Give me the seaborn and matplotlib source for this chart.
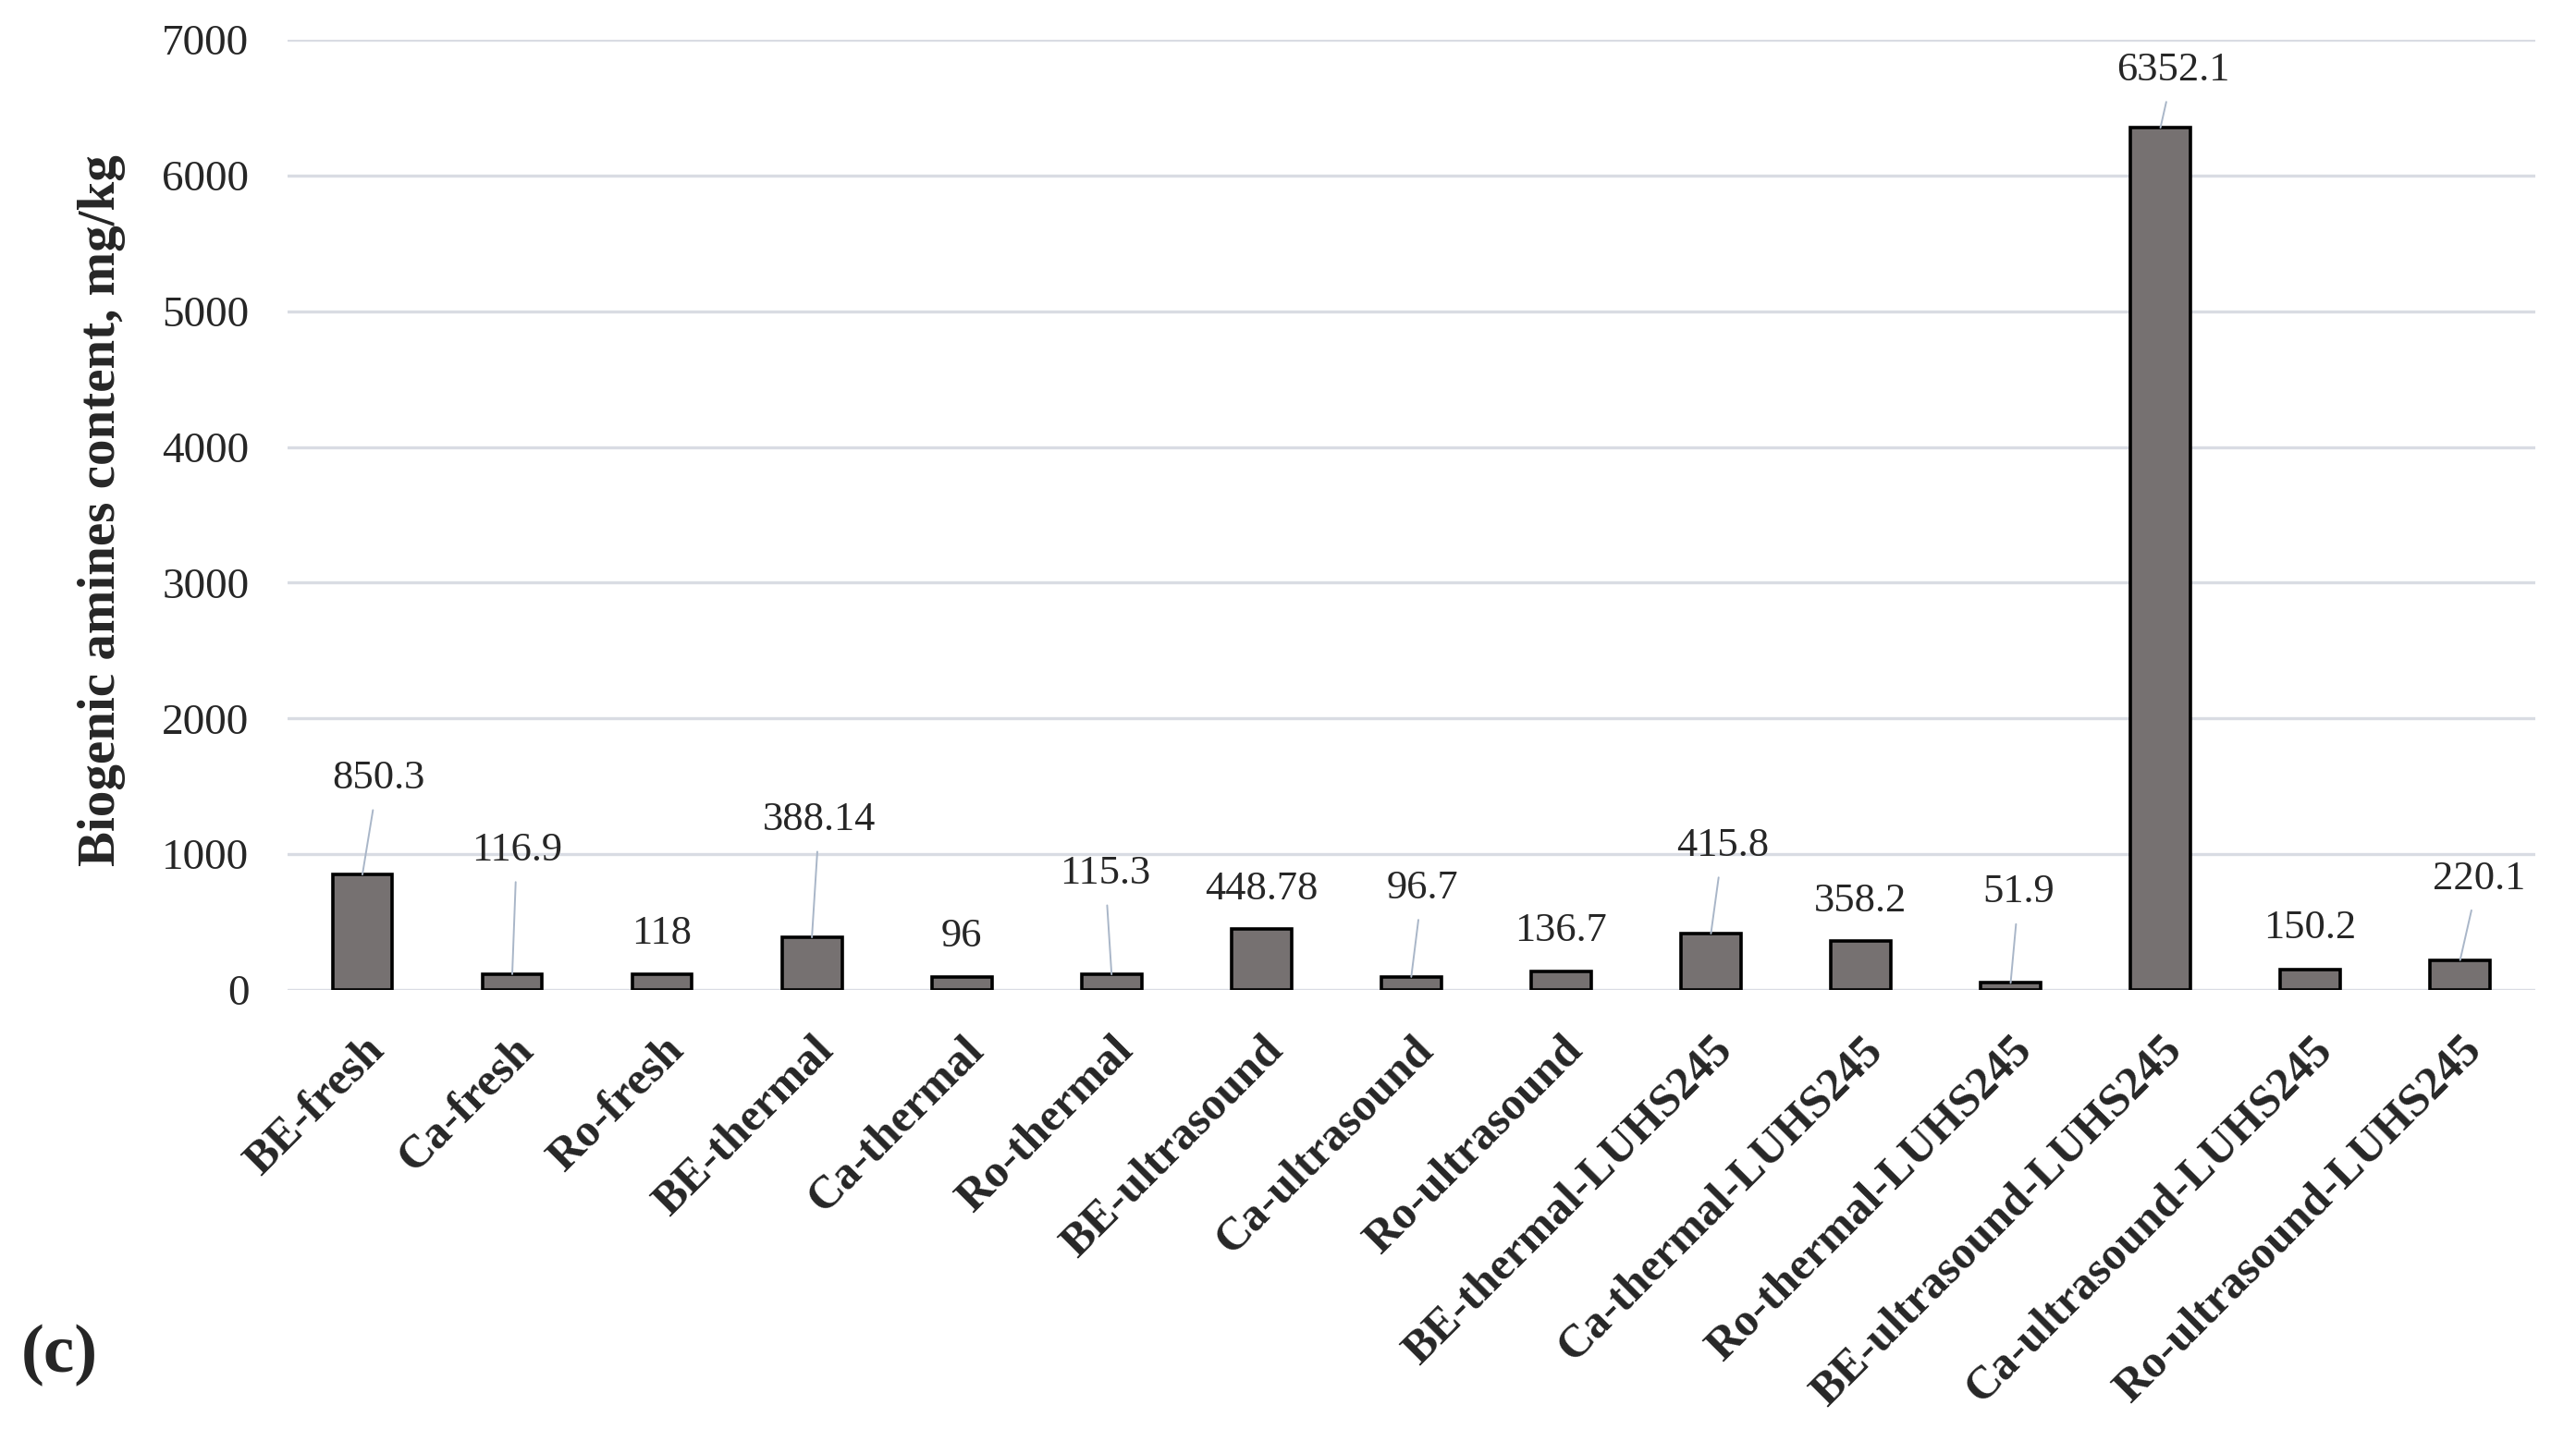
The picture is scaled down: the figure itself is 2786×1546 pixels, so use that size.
import matplotlib
matplotlib.use("Agg")
import matplotlib.pyplot as plt
import seaborn as sns

# --- data ---
categories = [
    "BE-fresh", "Ca-fresh", "Ro-fresh",
    "BE-thermal", "Ca-thermal", "Ro-thermal",
    "BE-ultrasound", "Ca-ultrasound", "Ro-ultrasound",
    "BE-thermal-LUHS245", "Ca-thermal-LUHS245", "Ro-thermal-LUHS245",
    "BE-ultrasound-LUHS245", "Ca-ultrasound-LUHS245", "Ro-ultrasound-LUHS245",
]
amines = [850.3, 116.9, 118, 388.14, 96, 115.3, 448.78, 96.7, 136.7,
          415.8, 358.2, 51.9, 6352.1, 150.2, 220.1]
value_labels = ["850.3", "116.9", "118", "388.14", "96", "115.3", "448.78", "96.7",
                "136.7", "415.8", "358.2", "51.9", "6352.1", "150.2", "220.1"]
y_ticks = [0, 1000, 2000, 3000, 4000, 5000, 6000, 7000]

# label placement (pixels from the bar top), like dragged labels in Excel
label_dx = [17, 5, 0, 8, 0, -7, 0, 12, 0, 13, 0, 9, 14, 0, 20]
label_dy = [104, 134, 44, 127, 44, 109, 43, 96, 44, 95, 43, 98, 62, 45, 88]

sns.set_theme(style="white")
plt.rcParams["font.family"] = ["Liberation Serif", "DejaVu Serif"]

fig = plt.figure(figsize=(27.86, 15.46), dpi=100)
ax = fig.add_axes([0.1116, 0.3072, 0.8725, 0.665])

sns.barplot(x=categories, y=amines, color="#767171", saturation=1,
            edgecolor="black", linewidth=2.6, width=0.4, ax=ax, zorder=3)

ax.set_ylim(0, 7000)
ax.set_xlim(-0.5, len(categories) - 0.5)
ax.set_yticks(y_ticks)
ax.set_yticklabels([str(t) for t in y_ticks], fontsize=34)
ax.yaxis.grid(True, color="#D9DCE3", linewidth=2.4, zorder=0)
ax.xaxis.grid(False)
for s in ax.spines.values():
    s.set_visible(False)
ax.tick_params(axis="both", length=0)
ax.tick_params(axis="y", pad=30)
ax.tick_params(axis="x", pad=30)

for lab in ax.get_xticklabels():
    lab.set_rotation(45)
    lab.set_ha("right")
    lab.set_va("top")
    lab.set_rotation_mode("anchor")
    lab.set_fontweight("bold")
    lab.set_fontsize(36)

ax.set_ylabel("Biogenic amines content, mg/kg", fontsize=41, fontweight="bold")
ax.yaxis.set_label_coords(-0.072, 0.505)

# value labels, long ones get a leader line back to the bar
for i, (v, txt) in enumerate(zip(amines, value_labels)):
    kw = dict(textcoords="offset pixels", ha="center", va="center",
              fontsize=32, color="#262626", zorder=4)
    if label_dy[i] > 60:
        kw["arrowprops"] = dict(arrowstyle="-", color="#A9B6C8", lw=1.4,
                                shrinkA=8, shrinkB=0)
    ax.annotate(txt, xy=(i, v), xytext=(label_dx[i], label_dy[i]), **kw)

fig.text(0.008, 1 - 1466 / 1546, "(c)", fontsize=54, fontweight="bold",
         ha="left", va="center")

fig.savefig("out.png", dpi=100)
